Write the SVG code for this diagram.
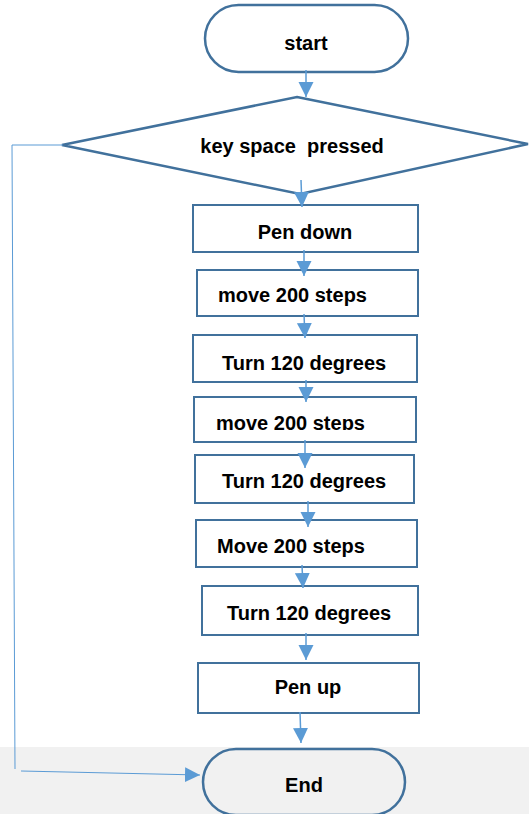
<svg xmlns="http://www.w3.org/2000/svg" width="529" height="814" viewBox="0 0 529 814">
<style>
.shape{fill:#fff;stroke:#41719c;stroke-width:2}
.term{stroke-width:2.5}
.lbl{font-family:"Liberation Sans",Arial,sans-serif;font-weight:bold;font-size:20px;fill:#000;white-space:pre}
.conn{stroke:#5b9bd5;stroke-width:1.5;fill:none}
</style>
<defs>
<marker id="ah" markerUnits="userSpaceOnUse" markerWidth="16" markerHeight="16" refX="15" refY="7.5" orient="auto">
<path d="M0,0 L15,7.5 L0,15 z" fill="#5b9bd5"/>
</marker>
<clipPath id="clipMove2"><rect x="195" y="398" width="220" height="32"/></clipPath>
</defs>
<rect x="0" y="747" width="529" height="67" fill="#f1f1f1"/>
<g id="start"><rect class="shape term" x="205" y="5" width="203" height="67" rx="33.5"/><text class="lbl" x="306" y="50" text-anchor="middle">start</text></g>
<g id="decision"><polygon class="shape" style="stroke-width:2.5" points="297,97 528,144 300,194 62,145"/><text class="lbl" x="292" y="153" text-anchor="middle">key space  pressed</text></g>
<g id="pendown"><rect class="shape" x="193" y="205" width="225" height="47"/><text class="lbl" x="305" y="239" text-anchor="middle">Pen down</text></g>
<g id="move1"><rect class="shape" x="197" y="270" width="221" height="46"/><text class="lbl" x="218" y="302">move 200 steps</text></g>
<g id="turn1"><rect class="shape" x="193" y="335" width="224" height="47"/><text class="lbl" x="222" y="370">Turn 120 degrees</text></g>
<g id="move2"><rect class="shape" x="194" y="397" width="222" height="45"/><text class="lbl" x="216" y="430" clip-path="url(#clipMove2)">move 200 steps</text></g>
<g id="turn2"><rect class="shape" x="195" y="455" width="219" height="48"/><text class="lbl" x="222" y="488">Turn 120 degrees</text></g>
<g id="move3"><rect class="shape" x="196" y="520" width="221" height="47"/><text class="lbl" x="217" y="553">Move 200 steps</text></g>
<g id="turn3"><rect class="shape" x="202" y="586" width="216" height="49"/><text class="lbl" x="227" y="620">Turn 120 degrees</text></g>
<g id="penup"><rect class="shape" x="198" y="663" width="221" height="50"/><text class="lbl" x="308" y="694" text-anchor="middle">Pen up</text></g>
<g id="end"><rect class="shape term" style="fill:none" x="203" y="749" width="202" height="66" rx="33"/><text class="lbl" x="304" y="792" text-anchor="middle">End</text></g>
<g id="connectors">
<line class="conn" x1="306" y1="70" x2="306" y2="97" marker-end="url(#ah)"/>
<line class="conn" x1="301" y1="180" x2="302" y2="207" marker-end="url(#ah)"/>
<line class="conn" x1="304" y1="250" x2="304" y2="276" marker-end="url(#ah)"/>
<line class="conn" x1="304" y1="314" x2="305" y2="338" marker-end="url(#ah)"/>
<line class="conn" x1="306" y1="380" x2="306" y2="402" marker-end="url(#ah)"/>
<line class="conn" x1="305" y1="440" x2="305" y2="468" marker-end="url(#ah)"/>
<line class="conn" x1="308" y1="501" x2="308" y2="527" marker-end="url(#ah)"/>
<line class="conn" x1="302" y1="565" x2="303" y2="588" marker-end="url(#ah)"/>
<line class="conn" x1="306" y1="633" x2="306" y2="660" marker-end="url(#ah)"/>
<line class="conn" x1="300" y1="712" x2="301" y2="743" marker-end="url(#ah)"/>
<polyline class="conn" style="stroke-width:1" points="63,145 12,145 15,769"/>
<line class="conn" style="stroke-width:1.2" x1="21" y1="771" x2="200" y2="775" marker-end="url(#ah)"/>
</g>
</svg>
